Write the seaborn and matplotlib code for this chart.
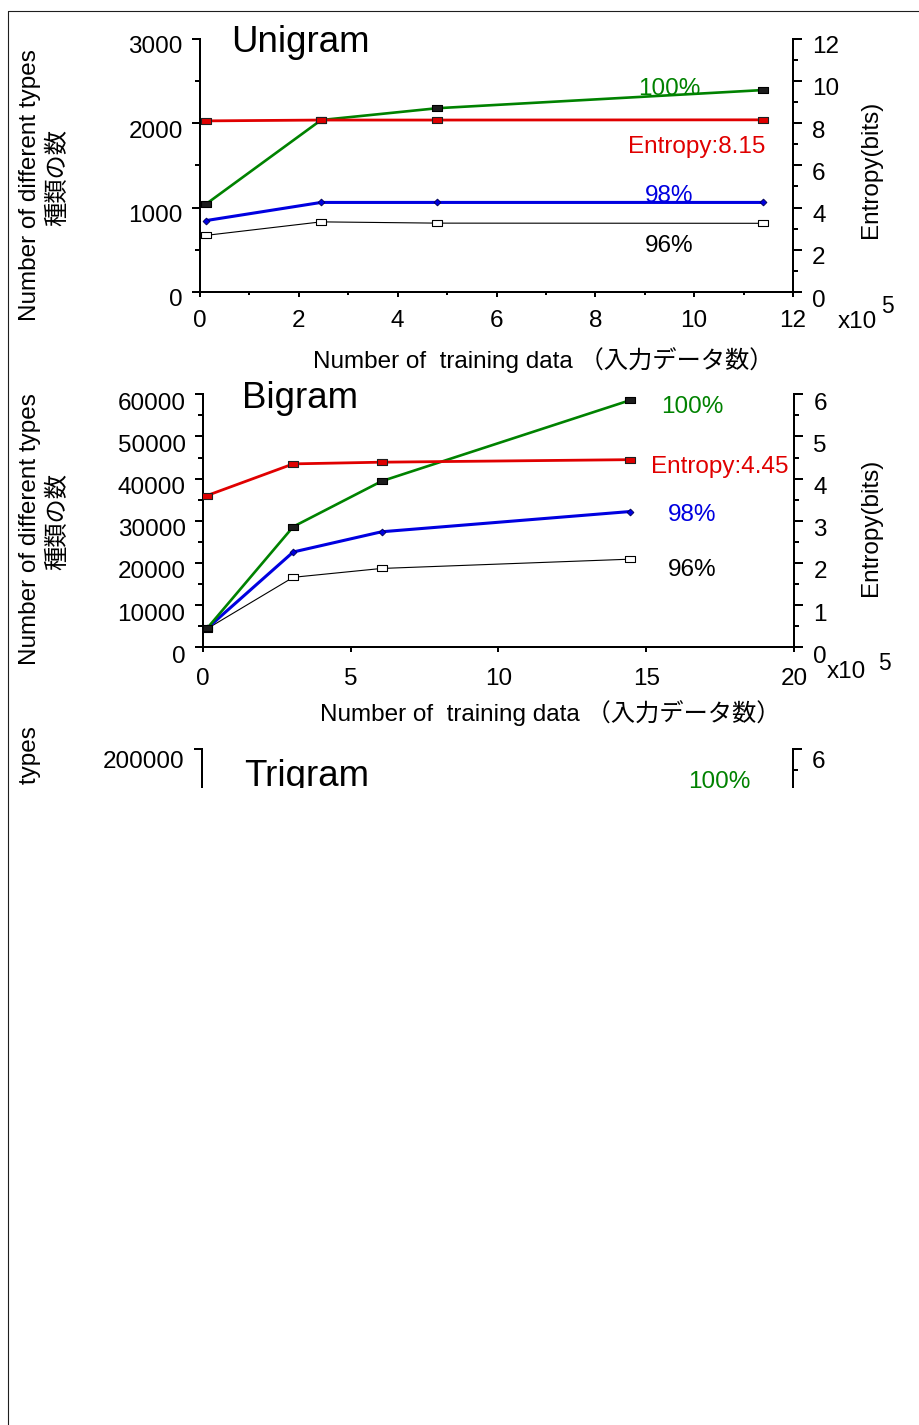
import matplotlib
matplotlib.use("Agg")
import matplotlib.pyplot as plt
from matplotlib.lines import Line2D
from matplotlib.patches import Rectangle
from matplotlib.transforms import ScaledTranslation
import seaborn as sns

# ---- data (x in units of 10^5 training items) ----
uni_x = [0.12, 2.45, 4.8, 11.4]
uni_100 = [1040, 2035, 2175, 2390]
uni_98 = [845, 1060, 1060, 1060]
uni_96 = [670, 830, 815, 813]
uni_entropy = [8.10, 8.14, 8.14, 8.15]

bi_x = [0.15, 3.06, 6.05, 14.45]
bi_100 = [4500, 28600, 39400, 58600]
bi_98 = [4500, 22600, 27400, 32200]
bi_96 = [4400, 16600, 18700, 20900]
bi_entropy = [3.60, 4.35, 4.39, 4.45]

uni_xticks = [0, 2, 4, 6, 8, 10, 12]
uni_yticks = [0, 1000, 2000, 3000]
uni_eticks = [0, 2, 4, 6, 8, 10, 12]
bi_xticks = [0, 5, 10, 15, 20]
bi_yticks = [0, 10000, 20000, 30000, 40000, 50000, 60000]
bi_eticks = [0, 1, 2, 3, 4, 5, 6]
tri_xticks = [0, 5, 10, 15, 20]
tri_yticks = [0, 50000, 100000, 150000, 200000]
tri_eticks = [0, 1, 2, 3, 4, 5, 6]

XLABEL = "Number of  training data （入力データ数）"
YLABEL_EN = "Number of different types"
YLABEL_JA = "種類の数"
ELABEL = "Entropy(bits)"

GREEN = "#008200"
RED = "#e00000"
BLUE = "#0000e0"
BLACK = "#000000"

sns.set_style("ticks", rc={"axes.edgecolor": "black", "xtick.color": "black",
                           "ytick.color": "black", "text.color": "black",
                           "axes.labelcolor": "black"})
plt.rcParams["font.family"] = ["Liberation Sans", "Noto Sans CJK JP", "DejaVu Sans"]

W, H = 919, 1425
fig = plt.figure(figsize=(W / 100, H / 100), dpi=100)
fig.patch.set_facecolor("white")

FS = 17.5      # tick / label text
TFS = 26.4     # panel titles
SFS = 16.4     # exponent


def fx(p):
    return p / W


def fy(p):
    return 1 - p / H


def panel_axes(l, t, r, b):
    ax = fig.add_axes([fx(l), fy(b), (r - l) / W, (b - t) / H])
    ax.set_facecolor("none")
    return ax


RECT = [(-1, -0.55), (1, -0.55), (1, 0.55), (-1, 0.55), (-1, -0.55)]


def draw_series(ax, ax2, x, s100, s98, s96, ent):
    sns.lineplot(x=x, y=s96, ax=ax, color=BLACK, linewidth=0.8, marker=RECT,
                 markersize=7, markerfacecolor="white", markeredgecolor="black",
                 markeredgewidth=0.8)
    sns.lineplot(x=x, y=s98, ax=ax, color=BLUE, linewidth=2.2, marker="D",
                 markersize=3.5, markerfacecolor=BLUE, markeredgecolor="#000050",
                 markeredgewidth=0.6)
    sns.lineplot(x=x, y=s100, ax=ax, color=GREEN, linewidth=1.9, marker=RECT,
                 markersize=7, markerfacecolor="#1c1c1c", markeredgecolor="black",
                 markeredgewidth=0.8)
    sns.lineplot(x=x, y=ent, ax=ax2, color=RED, linewidth=2.0, marker=RECT,
                 markersize=7, markerfacecolor=RED, markeredgecolor="#202020",
                 markeredgewidth=0.8)


def style_panel(ax, ax2, xlim, xticks, xminor, ylim, yticks, yminor, elim, eticks,
                eminor, xpad, yoff):
    for s in ["top", "right"]:
        ax.spines[s].set_visible(False)
    for s in ["top", "left", "bottom"]:
        ax2.spines[s].set_visible(False)
    for sp in [ax.spines["left"], ax.spines["bottom"], ax2.spines["right"]]:
        sp.set_linewidth(1.44)
        sp.set_color("black")
    ax.set_xlim(*xlim)
    ax.set_ylim(*ylim)
    ax2.set_ylim(*elim)
    ax.set_xticks(xticks)
    ax.set_xticks(xminor, minor=True)
    ax.set_yticks(yticks)
    ax.set_yticks(yminor, minor=True)
    ax2.set_yticks(eticks)
    ax2.set_yticks(eminor, minor=True)
    ax.set_xlabel("")
    ax.set_ylabel("")
    ax2.set_ylabel("")
    ax.tick_params(axis="x", which="major", direction="out", length=3.6, width=1.44,
                   pad=xpad, labelsize=FS)
    ax.tick_params(axis="x", which="minor", direction="out", length=2.2, width=1.44)
    ax.tick_params(axis="y", which="major", direction="out", length=5.8, width=1.44,
                   pad=6.5, labelsize=FS)
    ax.tick_params(axis="y", which="minor", direction="out", length=3.6, width=1.44)
    ax2.tick_params(axis="y", which="major", direction="out", length=6.8, width=1.44,
                    pad=7.0, labelsize=FS)
    ax2.tick_params(axis="y", which="minor", direction="out", length=3.6, width=1.44)
    shift = ScaledTranslation(0, -yoff / 100, fig.dpi_scale_trans)
    for a in (ax, ax2):
        for lab in a.get_yticklabels():
            lab.set_transform(lab.get_transform() + shift)


def ftext(x, y, s, **kw):
    kw.setdefault("fontsize", FS)
    return fig.text(fx(x), fy(y), s, **kw)


# ---------------- Unigram ----------------
ax_u = panel_axes(200, 38.5, 793, 292)
ax_u2 = ax_u.twinx()
draw_series(ax_u, ax_u2, uni_x, uni_100, uni_98, uni_96, uni_entropy)
style_panel(ax_u, ax_u2, (0, 12), uni_xticks, [1, 3, 5, 7, 9, 11],
            (0, 3000), uni_yticks, [500, 1500, 2500],
            (0, 12), uni_eticks, [1, 3, 5, 7, 9, 11], xpad=9.4, yoff=6)
ftext(231, 51.7, "Unigram", fontsize=TFS, ha="left", va="baseline")
ftext(669.5, 95, "100%", color=GREEN, ha="center", va="baseline")
ftext(696.3, 152.7, "Entropy:%.2f" % uni_entropy[-1], color=RED, ha="center", va="baseline")
ftext(669, 201.7, "98%", color=BLUE, ha="center", va="baseline")
ftext(669, 251.7, "96%", color=BLACK, ha="center", va="baseline")
ftext(30.5, 185, YLABEL_EN, rotation=90, ha="center", va="center")
ftext(58.3, 177.5, YLABEL_JA, rotation=90, ha="center", va="center")
ftext(870.5, 169, ELABEL, rotation=90, ha="center", va="center")
ftext(313, 368.3, XLABEL, ha="left", va="baseline")
ftext(838, 328.3, "x10", ha="left", va="baseline")
ftext(881, 313, "5", fontsize=SFS, ha="left", va="baseline")

# ---------------- Bigram ----------------
ax_b = panel_axes(202.7, 394.3, 794.3, 647.3)
ax_b2 = ax_b.twinx()
draw_series(ax_b, ax_b2, bi_x, bi_100, bi_98, bi_96, bi_entropy)
style_panel(ax_b, ax_b2, (0, 20), bi_xticks, [],
            (0, 60000), bi_yticks, [5000, 15000, 25000, 35000, 45000, 55000],
            (0, 6), bi_eticks, [0.5, 1.5, 2.5, 3.5, 4.5, 5.5], xpad=11.5, yoff=7)
ftext(242, 408.3, "Bigram", fontsize=TFS, ha="left", va="baseline")
ftext(692.5, 413.3, "100%", color=GREEN, ha="center", va="baseline")
ftext(719.7, 472.7, "Entropy:%.2f" % bi_entropy[-1], color=RED, ha="center", va="baseline")
ftext(691.7, 521, "98%", color=BLUE, ha="center", va="baseline")
ftext(691.7, 575.7, "96%", color=BLACK, ha="center", va="baseline")
ftext(30, 529, YLABEL_EN, rotation=90, ha="center", va="center")
ftext(58.3, 521.5, YLABEL_JA, rotation=90, ha="center", va="center")
ftext(870.5, 527, ELABEL, rotation=90, ha="center", va="center")
ftext(320, 721, XLABEL, ha="left", va="baseline")
ftext(827, 678.3, "x10", ha="left", va="baseline")
ftext(878, 670, "5", fontsize=SFS, ha="left", va="baseline")

# ---------------- Trigram (top strip only) ----------------
ax_t = panel_axes(201.7, 749, 792.5, 1002)
ax_t2 = ax_t.twinx()
style_panel(ax_t, ax_t2, (0, 20), tri_xticks, [],
            (0, 200000), tri_yticks, [],
            (0, 6), tri_eticks, [0.5, 1.5, 2.5, 3.5, 4.5, 5.5], xpad=11.5, yoff=10)
ftext(244, 786, "Trigram", fontsize=TFS, ha="left", va="baseline")
ftext(719, 787.5, "100%", color=GREEN, ha="center", va="baseline")
ftext(30, 862, YLABEL_EN, rotation=90, ha="center", va="center")
ftext(58.3, 855, YLABEL_JA, rotation=90, ha="center", va="center")
ftext(870.5, 880, ELABEL, rotation=90, ha="center", va="center")

# page cover below the strip, and page frame
fig.add_artist(Rectangle((fx(8.5), 0), 1, fy(788), transform=fig.transFigure,
                         facecolor="white", edgecolor="none", zorder=10))
fig.add_artist(Line2D([fx(7.5), fx(7.5)], [0, fy(10.5)], transform=fig.transFigure,
                      color="#1e1e1e", linewidth=0.8, zorder=11))
fig.add_artist(Line2D([fx(7.5), 1], [fy(10.5), fy(10.5)], transform=fig.transFigure,
                      color="#1e1e1e", linewidth=0.8, zorder=11))

fig.savefig("out.png", dpi=100, facecolor="white")
